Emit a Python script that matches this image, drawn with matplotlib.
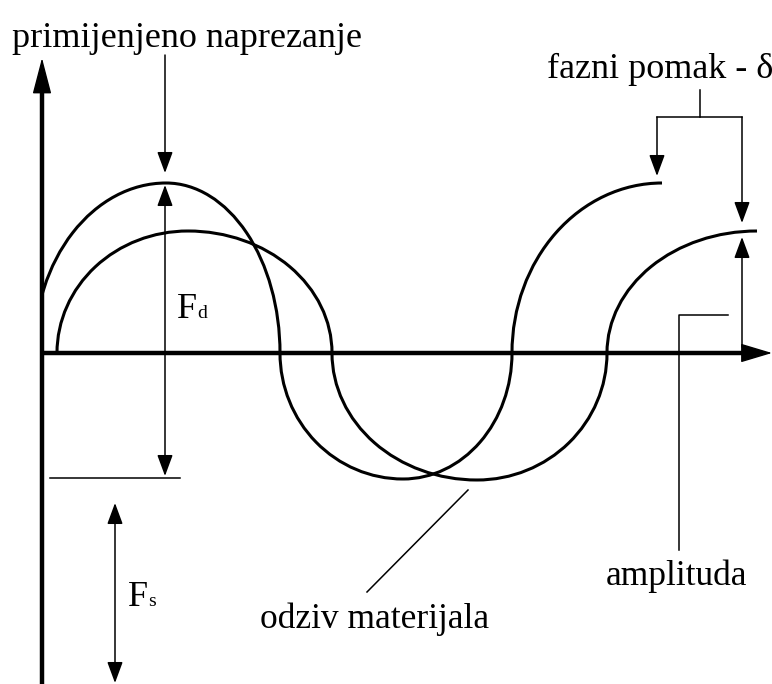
import matplotlib.pyplot as plt
from matplotlib.patches import Arc, Rectangle

# kljucne tocke krivulja, ocitane sa slike (pikseli, y raste prema dolje)
# naizmjence: prolaz kroz os / ekstrem
baseline_y = 353
stress_x = [34, 166, 280, 403, 512, 662]
stress_y = [353, 183, 353, 479, 353, 183]
response_x = [57, 188, 332, 477, 607, 757]
response_y = [353, 231, 353, 480, 353, 231]

labels = {
    'naprezanje': 'primijenjeno naprezanje',
    'pomak': 'fazni pomak - δ',
    'amplituda': 'amplituda',
    'odziv': 'odziv materijala',
}

serif = ['Liberation Serif', 'DejaVu Serif']
W, H = 772, 684

fig = plt.figure(figsize=(W / 100, H / 100), dpi=100)
ax = fig.add_axes([0, 0, 1, 1])
ax.set_xlim(0, W)
ax.set_ylim(H, 0)
ax.axis('off')


def draw_wave(xs, ys, clip=None):
    # svaka cetvrtina vala je cetvrtina elipse
    for i in range(len(xs) - 1):
        if ys[i] == baseline_y:
            xz, xe, ye = xs[i], xs[i + 1], ys[i + 1]
        else:
            xe, ye, xz = xs[i], ys[i], xs[i + 1]
        a = abs(xe - xz)
        b = abs(ye - baseline_y)
        if ye < baseline_y:
            t1, t2 = (180, 270) if xz < xe else (270, 360)
        else:
            t1, t2 = (90, 180) if xz < xe else (0, 90)
        arc = Arc((xe, baseline_y), 2 * a, 2 * b, theta1=t1, theta2=t2,
                  color='black', lw=2.2)
        ax.add_patch(arc)
        if clip is not None:
            arc.set_clip_path(clip)


clip_rect = Rectangle((42, 0), W, H, transform=ax.transData)
draw_wave(stress_x, stress_y, clip=clip_rect)
draw_wave(response_x, response_y)


def arrow(tail, tip, style='-|>', lw=1.1, hl=0.65, hw=0.24):
    ax.annotate('', xy=tip, xytext=tail,
                arrowprops=dict(arrowstyle=f'{style},head_length={hl},head_width={hw}',
                                color='black', lw=lw, mutation_scale=20,
                                shrinkA=0, shrinkB=0))


# osi
ax.plot([42, 42], [H, 85], color='black', lw=3.2, solid_capstyle='butt')
arrow((42, 120), (42, 58), lw=1.0, hl=1.15, hw=0.3)
ax.plot([42, 752], [baseline_y, baseline_y], color='black', lw=3.2, solid_capstyle='butt')
arrow((700, baseline_y), (772, baseline_y), lw=1.0, hl=1.0, hw=0.3)

# primijenjeno naprezanje
arrow((165, 55), (165, 173))
arrow((165, 476), (165, 185), style='<|-|>')
ax.plot([50, 180], [478, 478], color='black', lw=1.1)

# Fs
arrow((115, 683), (115, 503), style='<|-|>')

# fazni pomak
ax.plot([700, 700], [90, 117], color='black', lw=1.1)
ax.plot([657, 742], [117, 117], color='black', lw=1.1)
arrow((657, 117), (657, 176))
arrow((742, 117), (742, 223))

# amplituda
arrow((742, 347), (742, 237))
ax.plot([728, 679, 679], [315, 315, 550], color='black', lw=1.1)

# odziv materijala
ax.plot([367, 468], [592, 490], color='black', lw=1.1)

# tekst
ax.text(12, 47, labels['naprezanje'], fontsize=26, family=serif, va='baseline')
ax.text(547, 78, labels['pomak'], fontsize=26, family=serif, va='baseline')
ax.text(606, 585, labels['amplituda'], fontsize=25.5, family=serif, va='baseline')
ax.text(260, 628, labels['odziv'], fontsize=25.5, family=serif, va='baseline')
ax.text(177, 318, 'F', fontsize=26, family=serif, va='baseline')
ax.text(197, 318, 'd', fontsize=14, family=serif, va='baseline')
ax.text(128, 606, 'F', fontsize=26, family=serif, va='baseline')
ax.text(148, 606, 's', fontsize=14, family=serif, va='baseline')

plt.savefig('out.png', dpi=100, facecolor='white')
